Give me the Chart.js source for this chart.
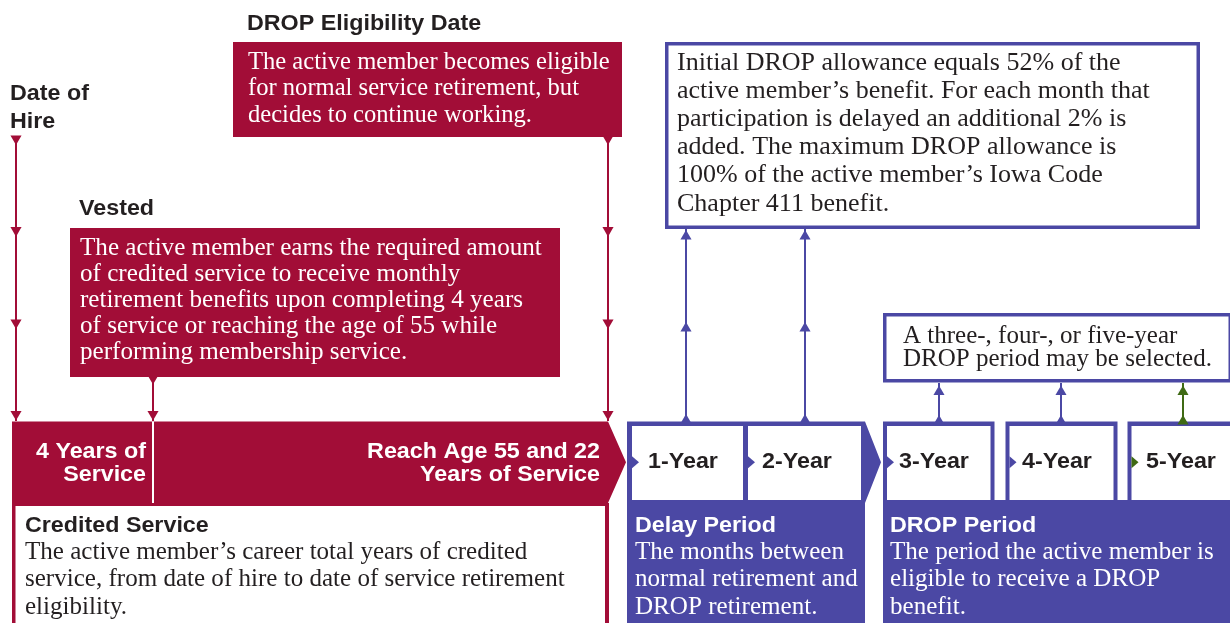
<!DOCTYPE html>
<html><head><meta charset="utf-8">
<script src="https://cdn.jsdelivr.net/npm/chart.js@4.4.1/dist/chart.umd.min.js"></script>
<style>html,body{margin:0;padding:0;background:#fff;overflow:hidden}#wrap{width:1230px;height:623px}</style>
</head><body><div id="wrap"><canvas id="c" width="1230" height="623"></canvas></div>
<script>
// ---------------- DATA ----------------
const milestoneTitles = [['Date of', 'Hire'], ['Vested'], ['DROP Eligibility Date']];
const milestoneNotes = [
  null,
  ['The active member earns the required amount', 'of credited service to receive monthly',
   'retirement benefits upon completing 4 years', 'of service or reaching the age of 55 while',
   'performing membership service.'],
  ['The active member becomes eligible', 'for normal service retirement, but', 'decides to continue working.']
];
const serviceMarkers = [['4 Years of', 'Service'], ['Reach Age 55 and 22', 'Years of Service']];
const periodTitles = ['Credited Service', 'Delay Period', 'DROP Period'];
const periodTexts = [
  ['The active member\u2019s career total years of credited', 'service, from date of hire to date of service retirement', 'eligibility.'],
  ['The months between', 'normal retirement and', 'DROP retirement.'],
  ['The period the active member is', 'eligible to receive a DROP', 'benefit.']
];
const delayOptions = ['1-Year', '2-Year'];
const dropOptions = ['3-Year', '4-Year', '5-Year'];
const highlightedOption = '5-Year';
const delayNote = ['Initial DROP allowance equals 52% of the', 'active member\u2019s benefit. For each month that',
  'participation is delayed an additional 2% is', 'added. The maximum DROP allowance is',
  '100% of the active member\u2019s Iowa Code', 'Chapter 411 benefit.'];
const dropNote = ['A three-, four-, or five-year', 'DROP period may be selected.'];

// ---------------- LAYOUT & STYLE (diagram units on the chart scales) ----------------
const C = { crimson: '#a20d37', purple: '#4b48a4', green: '#3f6a14', dark: '#231f20', white: '#ffffff' };
const SANS = '"Liberation Sans", Arial, sans-serif';
const SERIF = '"Liberation Serif", "Times New Roman", serif';
const L = {
  barTop: 421.5, barBot: 503, bottom: 623, right: 1230,
  titles: [{ x: 10, base: 100, lh: 28.3 }, { x: 79, base: 215, lh: 0 }, { x: 247, base: 30, lh: 0 }],
  notes: [null,
    { box: [70, 228, 560, 377], tx: 80, base: 255, lh: 26, fit: 0, w: 462 },
    { box: [233, 42, 622, 137], tx: 248, base: 68.5, lh: 26.5, fit: 0, w: 362 }],
  crimson: { left: 12, right: 608, tip: 626, inner: [15.5, 506, 605, 623], divider: 153 },
  markerText: [{ x: 146, align: 'right' }, { x: 600, align: 'right' }], markerBase: 457.5, markerLh: 23,
  delay: { left: 627, right: 865, tip: 881 },
  delayBoxes: [[632, 743], [748, 861]], delayLabelX: [648, 762],
  dropLeft: 883,
  dropOuter: [[883, 994.5], [1005.5, 1117.5], [1127.5, 1245]],
  dropBoxes: [[887, 990.5], [1009.5, 1113.5], [1131.5, 1245]], dropLabelX: [899, 1022, 1146],
  boxTop: 426, boxBot: 500, labelBase: 467.5,
  periodX: [25, 635, 890], periodTitleBase: 531.5, periodBase: 558.5, periodLh: 27.6,
  periodFit: [{ line: 1, w: 540 }, { line: 1, w: 223 }, { line: 0, w: 324 }],
  delayNoteBox: [665, 42, 1200, 229], delayNoteText: { x: 677, base: 69.5, lh: 28.2, fit: 1, w: 473 },
  dropNoteBox: [883, 313, 1232, 382.5], dropNoteText: { x: 903, base: 342.5, lh: 23, fit: 1, w: 309 },
  border: 3.5
};
const ARROW_R = 6.4;
const connectors = [
  { x: 16, from: 137, to: 421, dir: 'down', tips: [145, 236.7, 329, 420.5], color: C.crimson },
  { x: 153, from: 377, to: 421, dir: 'down', tips: [384.5, 420.5], color: C.crimson },
  { x: 608, from: 137, to: 421, dir: 'down', tips: [145, 236.7, 329, 420.5], color: C.crimson },
  { x: 686, from: 421, to: 229, dir: 'up', tips: [230, 322, 414], color: C.purple },
  { x: 805, from: 421, to: 229, dir: 'up', tips: [230, 322, 414], color: C.purple },
  { x: 939, from: 421, to: 383, dir: 'up', tips: [385.5, 415], color: C.purple },
  { x: 1061, from: 421, to: 383, dir: 'up', tips: [385.5, 415], color: C.purple },
  { x: 1183, from: 421, to: 383, dir: 'up', tips: [385.5, 415], color: C.green }
];

// Build Chart.js datasets for the connector lines with triangle arrowheads
const datasets = connectors.map(c => {
  const pts = [{ x: c.x, y: c.from }];
  const radii = [0], rot = [0];
  c.tips.forEach(t => {
    pts.push({ x: c.x, y: c.dir === 'down' ? t - ARROW_R : t + ARROW_R });
    radii.push(ARROW_R); rot.push(c.dir === 'down' ? 180 : 0);
  });
  pts.push({ x: c.x, y: c.to }); radii.push(0); rot.push(0);
  return {
    data: pts, showLine: true, borderColor: c.color, borderWidth: 2, fill: false,
    pointStyle: 'triangle', pointRadius: radii, pointRotation: rot,
    pointBackgroundColor: c.color, pointBorderColor: c.color, pointBorderWidth: 0,
    pointHoverRadius: radii, clip: false
  };
});

const diagram = {
  id: 'diagram',
  beforeDatasetsDraw(chart) {
    const ctx = chart.ctx, X = v => chart.scales.x.getPixelForValue(v), Y = v => chart.scales.y.getPixelForValue(v);
    const poly = (pts, fill) => { ctx.beginPath(); pts.forEach(([a, b], i) => i ? ctx.lineTo(X(a), Y(b)) : ctx.moveTo(X(a), Y(b))); ctx.closePath(); ctx.fillStyle = fill; ctx.fill(); };
    const rect = (x0, y0, x1, y1, fill) => poly([[x0, y0], [x1, y0], [x1, y1], [x0, y1]], fill);
    const frame = (b, col) => { rect(b[0], b[1], b[2], b[3], col); rect(b[0] + L.border, b[1] + L.border, b[2] - L.border, b[3] - L.border, C.white); };
    ctx.save();
    L.notes.forEach(n => { if (n) rect(n.box[0], n.box[1], n.box[2], n.box[3], C.crimson); });
    frame(L.delayNoteBox, C.purple);
    frame(L.dropNoteBox, C.purple);
    const cr = L.crimson, mid = (L.barTop + L.barBot) / 2;
    poly([[cr.left, L.barTop], [cr.right, L.barTop], [cr.tip, mid], [cr.right, L.barBot], [cr.right + 1, L.barBot], [cr.right + 1, L.bottom], [cr.left, L.bottom]], C.crimson);
    rect(cr.inner[0], cr.inner[1], cr.inner[2], cr.inner[3], C.white);
    rect(cr.divider - 1, L.barTop, cr.divider + 1, L.barBot, C.white);
    const d = L.delay;
    poly([[d.left, L.barTop], [d.right, L.barTop], [d.tip, mid], [d.right, L.barBot], [d.right, L.bottom], [d.left, L.bottom]], C.purple);
    L.delayBoxes.forEach(b => rect(b[0], L.boxTop, b[1], L.boxBot, C.white));
    rect(L.dropLeft, L.boxBot, L.right, L.bottom, C.purple);
    L.dropOuter.forEach(b => rect(b[0], L.barTop, b[1], L.boxBot, C.purple));
    L.dropBoxes.forEach(b => rect(b[0], L.boxTop, b[1], L.boxBot, C.white));
    const pointer = (x, col) => poly([[x, mid - 6], [x + 7, mid], [x, mid + 6]], col);
    L.delayBoxes.forEach(b => pointer(b[0], C.purple));
    L.dropBoxes.forEach((b, i) => pointer(b[0], dropOptions[i] === highlightedOption ? C.green : C.purple));
    ctx.restore();
  },
  afterDatasetsDraw(chart) {
    const ctx = chart.ctx, X = v => chart.scales.x.getPixelForValue(v), Y = v => chart.scales.y.getPixelForValue(v);
    ctx.save();
    ctx.textBaseline = 'alphabetic';
    const sansSize = 21.5;
    ctx.font = `bold ${sansSize}px ${SANS}`;
    const stretch = 110 / ctx.measureText(serviceMarkers[0][0]).width;
    const sans = (t, x, y, align, col) => {
      ctx.save(); ctx.font = `bold ${sansSize}px ${SANS}`; ctx.fillStyle = col; ctx.textAlign = align;
      ctx.translate(X(x), Y(y)); ctx.scale(stretch, 1); ctx.fillText(t, 0, 0); ctx.restore();
    };
    const serifBlock = (lines, x, base, lh, fitIdx, w, col) => {
      ctx.font = `23px ${SERIF}`;
      const size = 23 * w / ctx.measureText(lines[fitIdx]).width;
      ctx.font = `${size}px ${SERIF}`; ctx.fillStyle = col; ctx.textAlign = 'left';
      lines.forEach((t, i) => ctx.fillText(t, X(x), Y(base + i * lh)));
    };
    milestoneTitles.forEach((lines, i) => lines.forEach((t, j) => sans(t, L.titles[i].x, L.titles[i].base + j * L.titles[i].lh, 'left', C.dark)));
    milestoneNotes.forEach((lines, i) => { if (lines) { const n = L.notes[i]; serifBlock(lines, n.tx, n.base, n.lh, n.fit, n.w, C.white); } });
    serviceMarkers.forEach((lines, i) => lines.forEach((t, j) => sans(t, L.markerText[i].x, L.markerBase + j * L.markerLh, L.markerText[i].align, C.white)));
    delayOptions.forEach((t, i) => sans(t, L.delayLabelX[i], L.labelBase, 'left', C.dark));
    dropOptions.forEach((t, i) => sans(t, L.dropLabelX[i], L.labelBase, 'left', C.dark));
    periodTitles.forEach((t, i) => {
      const col = i === 0 ? C.dark : C.white;
      sans(t, L.periodX[i], L.periodTitleBase, 'left', col);
      serifBlock(periodTexts[i], L.periodX[i], L.periodBase, L.periodLh, L.periodFit[i].line, L.periodFit[i].w, col);
    });
    const dn = L.delayNoteText, pn = L.dropNoteText;
    serifBlock(delayNote, dn.x, dn.base, dn.lh, dn.fit, dn.w, C.dark);
    serifBlock(dropNote, pn.x, pn.base, pn.lh, pn.fit, pn.w, C.dark);
    ctx.restore();
  }
};

new Chart(document.getElementById('c'), {
  type: 'scatter',
  data: { datasets },
  options: {
    responsive: false, animation: false, events: [],
    layout: { padding: 0 },
    scales: {
      x: { type: 'linear', min: 0, max: L.right, display: false },
      y: { type: 'linear', min: 0, max: L.bottom, reverse: true, display: false }
    },
    plugins: { legend: { display: false }, tooltip: { enabled: false } }
  },
  plugins: [diagram]
});
</script></body></html>
